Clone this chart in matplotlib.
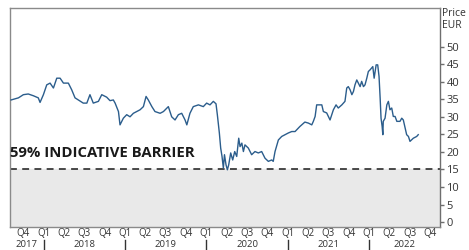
import numpy as np
import pandas as pd
import matplotlib
matplotlib.use("Agg")
import matplotlib.pyplot as plt
import matplotlib.dates as mdates
import matplotlib.transforms as mtransforms

plt.rcParams['font.family'] = ['Open Sans', 'DejaVu Sans']

# share price, EUR
dates = [
    "2017-08-07", "2017-09-09", "2017-10-01", "2017-10-23", "2017-11-15", "2017-12-07",
    "2017-12-15", "2017-12-30", "2018-01-14", "2018-01-29", "2018-02-13", "2018-02-28",
    "2018-03-15", "2018-03-30", "2018-04-21", "2018-05-06", "2018-05-21", "2018-06-05",
    "2018-06-27", "2018-07-13", "2018-07-27", "2018-08-11", "2018-09-03", "2018-09-18",
    "2018-10-10", "2018-10-25", "2018-11-09", "2018-11-17", "2018-12-02", "2018-12-09",
    "2018-12-24", "2019-01-08", "2019-01-23", "2019-02-07", "2019-02-22", "2019-03-09",
    "2019-03-24", "2019-04-05", "2019-04-15", "2019-05-01", "2019-05-15", "2019-06-07",
    "2019-06-22", "2019-07-14", "2019-07-29", "2019-08-13", "2019-08-28", "2019-09-12",
    "2019-09-27", "2019-10-05", "2019-10-19", "2019-11-03", "2019-11-26", "2019-12-18",
    "2020-01-02", "2020-01-17", "2020-02-01", "2020-02-13", "2020-02-19", "2020-02-28",
    "2020-03-05", "2020-03-11", "2020-03-17", "2020-03-22", "2020-03-29", "2020-04-04",
    "2020-04-10", "2020-04-19", "2020-04-28", "2020-05-07", "2020-05-16", "2020-05-25",
    "2020-05-31", "2020-06-08", "2020-06-15", "2020-06-22", "2020-07-07", "2020-07-22",
    "2020-08-06", "2020-08-21", "2020-09-05", "2020-09-20", "2020-10-05", "2020-10-20",
    "2020-10-27", "2020-11-04", "2020-11-19", "2020-12-04", "2020-12-19", "2021-01-03",
    "2021-01-18", "2021-02-02", "2021-02-17", "2021-02-23", "2021-03-04", "2021-03-18",
    "2021-04-03", "2021-04-18", "2021-04-25", "2021-05-03", "2021-05-10", "2021-05-18",
    "2021-06-02", "2021-06-09", "2021-06-24", "2021-07-09", "2021-07-17", "2021-07-24",
    "2021-08-05", "2021-08-15", "2021-08-31", "2021-09-14", "2021-09-22", "2021-09-29",
    "2021-10-07", "2021-10-15", "2021-10-22", "2021-10-29", "2021-11-06", "2021-11-13",
    "2021-11-21", "2021-11-28", "2021-12-06", "2021-12-13", "2021-12-21", "2021-12-28",
    "2022-01-05", "2022-01-12", "2022-01-17", "2022-01-23", "2022-02-01", "2022-02-08",
    "2022-02-14", "2022-02-19", "2022-02-23", "2022-02-28", "2022-03-03", "2022-03-05",
    "2022-03-13", "2022-03-21", "2022-03-28", "2022-04-04", "2022-04-12", "2022-04-19",
    "2022-04-27", "2022-05-05", "2022-05-19", "2022-05-27", "2022-06-03", "2022-06-11",
    "2022-06-18", "2022-06-26", "2022-07-03", "2022-07-18", "2022-08-02", "2022-08-09",
]
prices = [
    34.8, 35.4, 36.3, 36.5, 36.0, 35.4,
    34.1, 36.3, 39.1, 39.6, 38.2, 41.0,
    41.0, 39.6, 39.6, 37.7, 35.4, 34.8,
    33.9, 33.9, 36.3, 33.9, 34.4, 36.3,
    35.6, 34.6, 34.8, 33.9, 31.5, 27.7,
    29.6, 30.6, 30.0, 31.0, 31.5, 32.0,
    32.9, 35.8, 34.8, 32.9, 31.5, 31.0,
    31.5, 32.9, 30.0, 29.1, 30.6, 31.0,
    29.1, 27.7, 31.0, 32.9, 33.4, 32.9,
    33.9, 33.4, 34.4, 33.7, 30.6, 25.4,
    21.1, 18.7, 15.4, 19.2, 16.3, 14.9,
    16.3, 19.7, 17.7, 20.1, 18.7, 23.9,
    21.5, 22.5, 20.1, 22.0, 21.1, 19.2,
    20.1, 19.7, 20.1, 18.2, 17.3, 17.7,
    17.3, 20.1, 23.4, 24.4, 24.9, 25.4,
    25.8, 25.8, 26.8, 27.2, 27.7, 28.5,
    28.2, 27.7, 28.7, 30.1, 33.4, 33.4,
    33.4, 31.5, 31.1, 29.1, 30.6, 32.0,
    33.4, 32.5, 33.4, 34.4, 38.2, 38.6,
    37.7, 36.3, 37.2, 39.1, 40.5, 39.6,
    38.6, 40.1, 38.6, 39.1, 41.0, 42.9,
    43.4, 43.9, 44.3, 41.0, 44.8, 44.8,
    41.5, 35.3, 29.6, 27.2, 24.9, 28.7,
    29.6, 33.4, 34.4, 32.0, 32.5, 30.1,
    30.1, 28.7, 28.7, 29.6, 29.1, 26.8,
    24.9, 24.4, 23.0, 23.9, 24.4, 24.9,
]
barrier = 15.0
barrier_label = "59% INDICATIVE BARRIER"
y_ticks = [0, 5, 10, 15, 20, 25, 30, 35, 40, 45, 50]
years = [2017, 2018, 2019, 2020, 2021, 2022]

dates = pd.to_datetime(dates)
x_start = pd.Timestamp("2017-08-02")
x_end = pd.Timestamp("2022-11-15")

fig = plt.figure(figsize=(4.69, 2.5), dpi=100)
ax = fig.add_axes([0.0213, 0.092, 0.917, 0.876])

ax.set_xlim(x_start, x_end)
ax.set_ylim(-1.4, 61)

# shaded zone below the barrier
ax.axhspan(-1.4, barrier, color="#e9e9e9", zorder=0)
ax.axhline(barrier, color="#1a1a1a", lw=1.1, ls=(0, (4.5, 3.5)), zorder=2)
ax.text(0.0, barrier + 2.6, barrier_label, transform=ax.get_yaxis_transform(),
        fontsize=10.7, fontweight="bold", color="#1a1a1a", ha="left", va="bottom")

ax.plot(dates, prices, color="#2b5d8c", lw=1.0, zorder=3)

# spines
for side in ["left", "top", "bottom"]:
    ax.spines[side].set_color("#8a8a8a")
    ax.spines[side].set_linewidth(1.0)
ax.spines["right"].set_color("#6e6e6e")
ax.spines["right"].set_linewidth(1.0)

# y axis on the right
ax.yaxis.tick_right()
ax.set_yticks(y_ticks)
ax.tick_params(axis="y", length=3, width=1, color="#6e6e6e", pad=1.5,
               labelsize=8, labelcolor="#333333")
ax.text(1.005, 1.0, "Price\nEUR", transform=ax.transAxes, ha="left", va="top",
        fontsize=7.5, color="#333333", linespacing=1.15)

# quarter labels at quarter starts
quarters = pd.date_range("2017-10-01", "2022-10-01", freq="QS")
ax.set_xticks(quarters)
ax.set_xticklabels(["Q%d" % q.quarter for q in quarters])
ax.tick_params(axis="x", length=0, pad=1, labelsize=7.0, labelcolor="#333333")

# year labels and separators
trans = mtransforms.blended_transform_factory(ax.transData, ax.transAxes)
for yr in years:
    lo = max(pd.Timestamp(f"{yr}-01-01"), x_start)
    hi = min(pd.Timestamp(f"{yr + 1}-01-01"), x_end)
    mid = lo + (hi - lo) / 2
    ax.text(mid, -0.0927, str(yr), transform=trans, ha="center", va="baseline",
            fontsize=6.8, color="#333333")
    if yr > years[0]:
        jan = mdates.date2num(pd.Timestamp(f"{yr}-01-01"))
        ax.plot([jan, jan], [-0.06, -0.1], transform=trans, color="#333333",
                lw=1.0, clip_on=False)

fig.savefig("out.png", dpi=100)
